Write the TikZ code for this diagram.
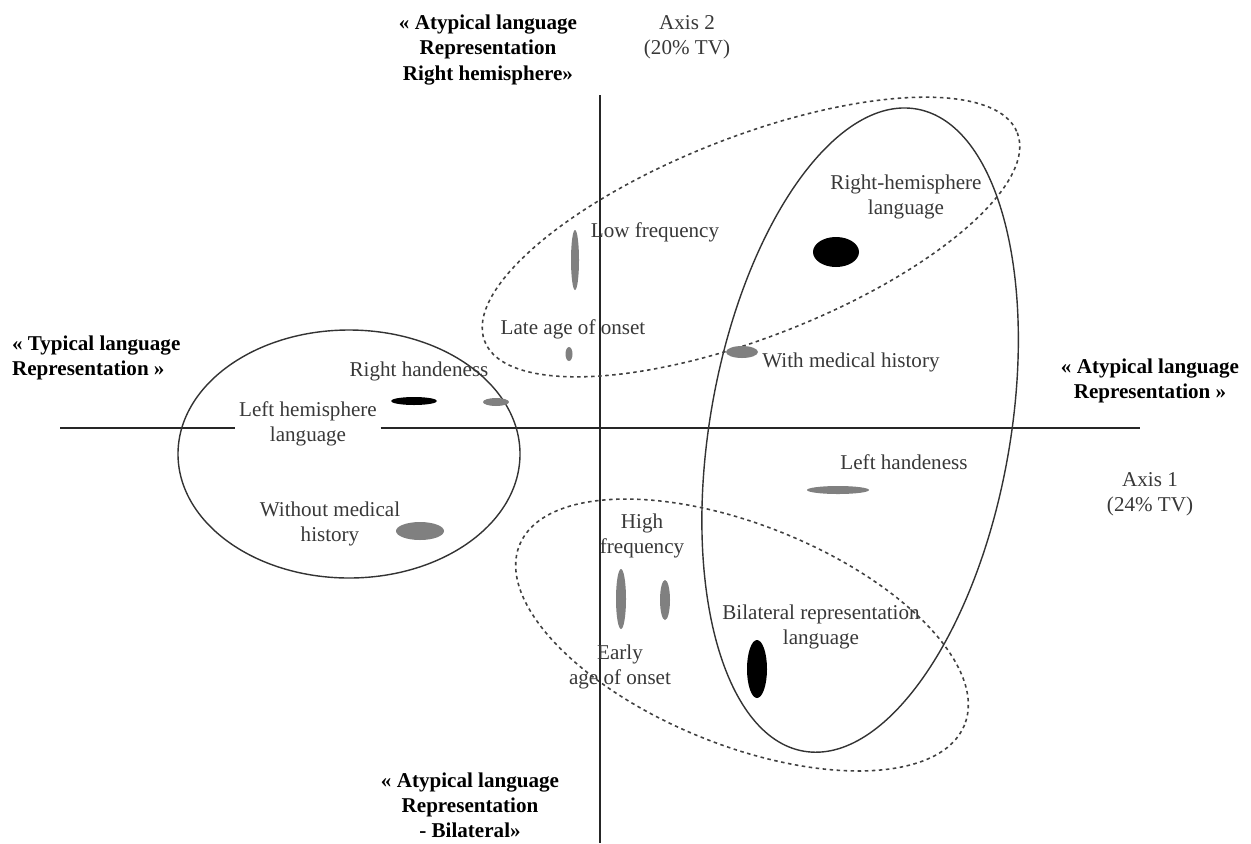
\documentclass[tikz,border=0pt]{standalone}
\usepackage{fontspec}
\setmainfont{Liberation Serif}
\begin{document}
\begin{tikzpicture}[x=0.02cm,y=-0.02cm,
  lbl/.style={font=\fontsize{12}{14.3}\selectfont, text=black!78, align=center, inner sep=1pt},
  blbl/.style={font=\fontsize{12}{14.3}\selectfont\bfseries, text=black, align=center, inner sep=1pt},
  axisline/.style={line width=1.1pt, black!85},
  group/.style={line width=0.8pt, black!80},
  dgroup/.style={line width=0.9pt, black!75, dash pattern=on 2pt off 2pt},
  gblob/.style={fill=black!50},
  kblob/.style={fill=black}]
\useasboundingbox (0,0) rectangle (1251,843);
% axes
\coordinate (vtop) at (600,95);
\coordinate (vbot) at (600,843);
\coordinate (h1) at (60,428);
\coordinate (h2) at (1140,428);
\node[lbl, fill=white, inner xsep=2pt] (lh) at (308,424) {Left hemisphere\\language};
\draw[axisline] (vtop) -- (vbot);
\draw[axisline] (h1) -- (lh.west |- h1);
\draw[axisline] (lh.east |- h1) -- (h2);
% group ellipses
\coordinate (cL) at (349,454);
\coordinate (cR) at (860,430);
\coordinate (cU) at (751,237);
\coordinate (cD) at (742,635);
\draw[group] (cL) ellipse [x radius=171, y radius=124];
\draw[group, rotate around={-10:(cR)}] (cR) ellipse [x radius=150, y radius=326];
\draw[dgroup, rotate around={21.4:(cU)}] (cU) ellipse [x radius=286, y radius=100];
\draw[dgroup, rotate around={-22:(cD)}] (cD) ellipse [x radius=240, y radius=110];
% blobs
\fill[kblob] (836,252) ellipse [x radius=23, y radius=15];
\fill[gblob] (575,260) ellipse [x radius=4, y radius=30];
\fill[gblob] (569,354) ellipse [x radius=3.5, y radius=7];
\fill[gblob] (742,352) ellipse [x radius=16, y radius=6];
\fill[kblob] (414,401) ellipse [x radius=23, y radius=4];
\fill[gblob] (496,402) ellipse [x radius=13, y radius=4];
\fill[gblob] (420,531) ellipse [x radius=24, y radius=9];
\fill[gblob] (838,490) ellipse [x radius=31, y radius=4];
\fill[gblob] (621,599) ellipse [x radius=5, y radius=30];
\fill[gblob] (665,600) ellipse [x radius=5, y radius=20];
\fill[kblob] (757,669) ellipse [x radius=10, y radius=29];
% bold pole labels
\node[blbl] (top) at (488,50) {« Atypical language\\Representation\\Right hemisphere»};
\node[lbl] (ax2) at (687,37) {Axis 2\\(20\% TV)};
\node[blbl, align=left, anchor=west] (typ) at (10,358) {« Typical language\\Representation »};
\node[blbl] (atr) at (1150,381) {« Atypical language\\Representation »};
\node[lbl] (ax1) at (1150,494) {Axis 1\\(24\% TV)};
\node[blbl] (bot) at (470,805) {« Atypical language\\Representation\\- Bilateral»};
% category labels
\node[lbl] (rhl) at (906,197) {Right-hemisphere\\language};
\node[lbl] (lf) at (655,232) {Low frequency};
\node[lbl] (la) at (573,329) {Late age of onset};
\node[lbl] (wmh) at (851,362) {With medical history};
\node[lbl] (rh) at (419,371) {Right handeness};
\node[lbl] (wo) at (330,524) {Without medical\\history};
\node[lbl] (lhd) at (904,462) {Left handeness};
\node[lbl] (hf) at (642,536) {High\\frequency};
\node[lbl] (ea) at (620,667) {Early\\age of onset};
\node[lbl] (bil) at (821,627) {Bilateral representation\\language};
\end{tikzpicture}
\end{document}
